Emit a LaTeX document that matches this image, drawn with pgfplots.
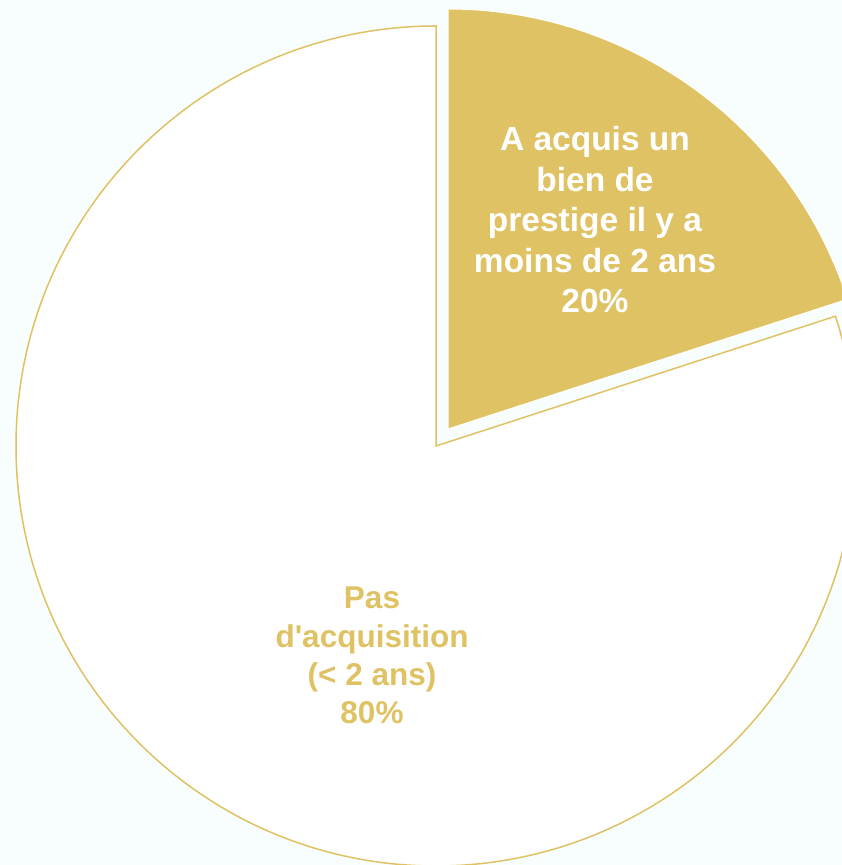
\documentclass[border=0pt]{standalone}
\usepackage{pgfplots}
\pgfplotsset{compat=1.18}
\usepackage{fontspec}
\setmainfont{Liberation Sans}
\definecolor{gold}{RGB}{223,194,99}
\definecolor{bg}{RGB}{248,253,254}
\begin{document}
\begin{tikzpicture}
% data: share of each slice (percent)
\def\valAcq{20}
\def\valNon{80}
\pgfmathsetmacro\angA{90-3.6*\valAcq}
\pgfmathsetmacro\angB{90+3.6*\valNon}
\begin{axis}[width=842pt,height=865pt,scale only axis,
  xmin=0,xmax=842,ymin=0,ymax=865,
  axis lines=none,ticks=none,clip=true]
\addplot[draw=none,fill=bg] coordinates {(0,0) (842,0) (842,865) (0,865)} -- cycle;
% Pas d'acquisition (80%)
\draw[gold,line width=1.5pt,fill=white] (axis cs:436,419) -- ++(90:420pt)
  arc[start angle=90,end angle=\angB,radius=420pt] -- cycle;
% A acquis (20%), exploded
\draw[white,line width=1pt,fill=gold] (axis cs:448,436) -- ++(\angA:420pt)
  arc[start angle=\angA,end angle=90,radius=420pt] -- cycle;
\begin{scope}[every node/.style={anchor=base,inner sep=0pt,font=\fontsize{33.5}{40}\selectfont\bfseries,text=white}]
\node at (axis cs:595,714) {A acquis un};
\node at (axis cs:595,673.5) {bien de};
\node at (axis cs:595,633) {prestige il y a};
\node at (axis cs:595,592.5) {moins de 2 ans};
\node at (axis cs:595,552) {20\%};
\end{scope}
\begin{scope}[every node/.style={anchor=base,inner sep=0pt,font=\fontsize{31.5}{38}\selectfont\bfseries,text=gold}]
\node at (axis cs:372,256) {Pas};
\node at (axis cs:372,217.7) {d\textquotesingle acquisition};
\node at (axis cs:372,179.3) {(< 2 ans)};
\node at (axis cs:372,141) {80\%};
\end{scope}
\end{axis}
\pgfresetboundingbox
\path[use as bounding box] (current axis.south west) rectangle (current axis.north east);
\end{tikzpicture}
\end{document}
